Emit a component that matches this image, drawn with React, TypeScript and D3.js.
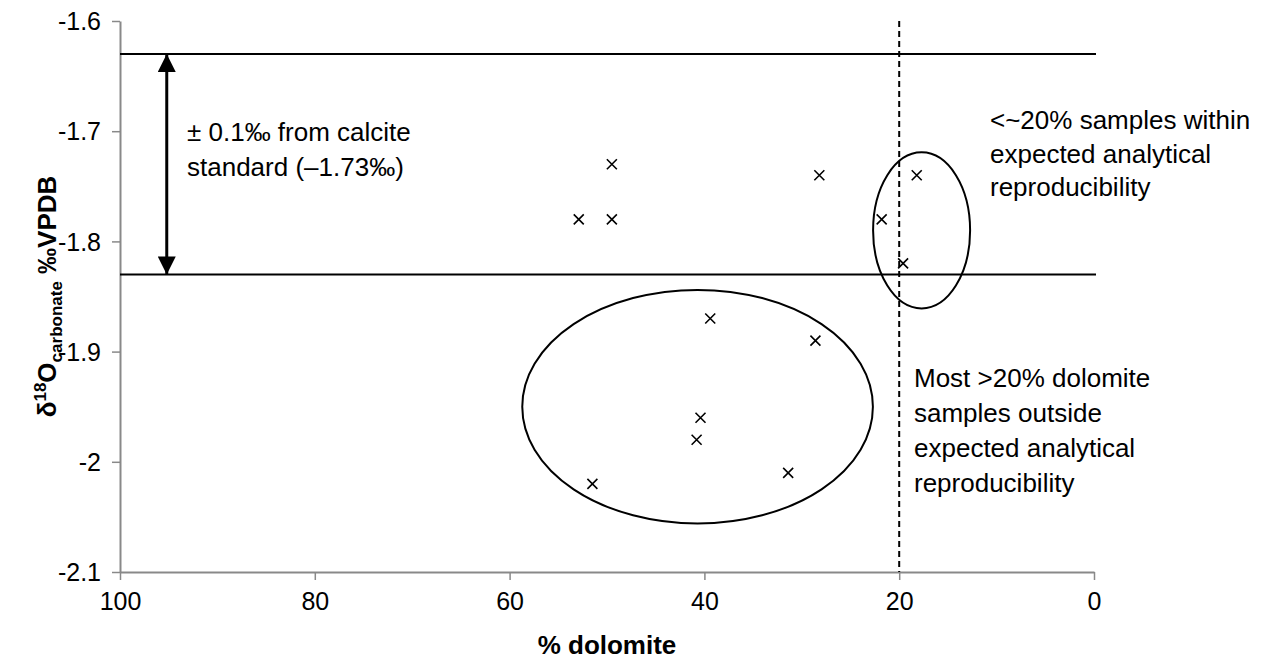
import React, { useEffect, useRef } from "react";
import * as d3 from "d3";

// % dolomite and d18O of each sample
const dolomite = [49.5, 52.9, 49.5, 28.2, 18.2, 21.8, 19.6, 39.4, 28.6, 40.4, 40.8, 31.4, 51.5];
const d18O = [-1.73, -1.78, -1.78, -1.74, -1.74, -1.78, -1.82, -1.87, -1.89, -1.96, -1.98, -2.01, -2.02];

const xTicks = [100, 80, 60, 40, 20, 0];
const yTicks = [-1.6, -1.7, -1.8, -1.9, -2, -2.1];

// reproducibility band around the calcite standard (-1.73)
const bandLines = [-1.63, -1.83];
const cutoff = 20;

// ellipses drawn round the groups: [cx, cy, rx, ry] in data units
const groups = [
  [17.7, -1.79, 4.98, 0.0708],
  [40.7, -1.95, 18.0, 0.106],
];

const noteLeft = ["± 0.1‰ from calcite", "standard (–1.73‰)"];
const noteTop = ["<~20% samples within", "expected analytical", "reproducibility"];
const noteBottom = ["Most >20% dolomite", "samples outside", "expected analytical", "reproducibility"];

export default function App() {
  const svgRef = useRef(null);

  useEffect(() => {
    const svg = d3.select(svgRef.current);
    svg.selectAll("*").remove();

    const x = d3.scaleLinear().domain([100, 0]).range([120, 1094]);
    const y = d3.scaleLinear().domain([-1.6, -2.1]).range([21, 572]);
    const font = "Liberation Sans, Arial, sans-serif";

    // axes
    const xAxis = d3.axisBottom(x).tickValues(xTicks).tickSize(8).tickSizeOuter(0).tickFormat(d3.format("d"));
    const yAxis = d3.axisLeft(y).tickValues(yTicks).tickSize(8).tickSizeOuter(0).tickFormat((d) => String(d));

    const gx = svg.append("g").attr("transform", "translate(0,572)").call(xAxis);
    const gy = svg.append("g").attr("transform", "translate(120,0)").call(yAxis);
    [gx, gy].forEach((g) => {
      g.select(".domain").attr("stroke", "#898989").attr("stroke-width", 2);
      g.selectAll(".tick line").attr("stroke", "#898989").attr("stroke-width", 1.5);
      g.selectAll(".tick text").attr("font-family", font).attr("font-size", 25).attr("fill", "#000");
    });
    gx.selectAll(".tick text").attr("dy", 0).attr("y", 38);
    gy.selectAll(".tick text").attr("x", -19).attr("dy", "0.35em");

    // band lines
    svg.selectAll(".band")
      .data(bandLines)
      .join("line")
      .attr("x1", x(100))
      .attr("x2", x(0) + 2)
      .attr("y1", (d) => y(d))
      .attr("y2", (d) => y(d))
      .attr("stroke", "#000")
      .attr("stroke-width", 2);

    // 20% cutoff
    svg.append("line")
      .attr("x1", x(cutoff)).attr("x2", x(cutoff))
      .attr("y1", y(-1.6)).attr("y2", y(-2.1))
      .attr("stroke", "#000")
      .attr("stroke-width", 2)
      .attr("stroke-dasharray", "6,4");

    // double arrow
    const defs = svg.append("defs");
    defs.append("marker")
      .attr("id", "head")
      .attr("viewBox", "0 0 10 10")
      .attr("refX", 10).attr("refY", 5)
      .attr("markerWidth", 6).attr("markerHeight", 6)
      .attr("markerUnits", "strokeWidth")
      .attr("orient", "auto-start-reverse")
      .append("path")
      .attr("d", "M0,0L10,5L0,10Z")
      .attr("fill", "#000");
    svg.append("line")
      .attr("x1", x(95.2)).attr("x2", x(95.2))
      .attr("y1", y(bandLines[0])).attr("y2", y(bandLines[1]))
      .attr("stroke", "#000")
      .attr("stroke-width", 3)
      .attr("marker-start", "url(#head)")
      .attr("marker-end", "url(#head)");

    // ellipses
    svg.selectAll(".grp")
      .data(groups)
      .join("ellipse")
      .attr("cx", (d) => x(d[0]))
      .attr("cy", (d) => y(d[1]))
      .attr("rx", (d) => x(100 - d[2]) - x(100))
      .attr("ry", (d) => y(-1.6 - d[3]) - y(-1.6))
      .attr("fill", "none")
      .attr("stroke", "#000")
      .attr("stroke-width", 2);

    // samples as x markers
    const pts = dolomite.map((v, i) => [x(v), y(d18O[i])]);
    svg.selectAll(".pt")
      .data(pts)
      .join("path")
      .attr("d", (d) => `M${d[0] - 5},${d[1] - 5}L${d[0] + 5},${d[1] + 5}M${d[0] - 5},${d[1] + 5}L${d[0] + 5},${d[1] - 5}`)
      .attr("stroke", "#000")
      .attr("stroke-width", 1.6);

    // notes
    const note = (lines, x0, y0, step) => {
      svg.append("g").selectAll("text")
        .data(lines)
        .join("text")
        .attr("x", x0)
        .attr("y", (d, i) => y0 + i * step)
        .attr("font-family", font)
        .attr("font-size", 26)
        .attr("fill", "#000")
        .text((d) => d);
    };
    note(noteLeft, 187, 141, 35);
    note(noteTop, 990, 129, 33.5);
    note(noteBottom, 914, 387, 35);

    // axis titles
    svg.append("text")
      .attr("x", (x(100) + x(0)) / 2)
      .attr("y", 654)
      .attr("text-anchor", "middle")
      .attr("font-family", font)
      .attr("font-weight", "bold")
      .attr("font-size", 26)
      .text("% dolomite");

    const t = svg.append("text")
      .attr("transform", `translate(56,${(y(-1.6) + y(-2.1)) / 2}) rotate(-90)`)
      .attr("text-anchor", "middle")
      .attr("font-family", font)
      .attr("font-weight", "bold")
      .attr("font-size", 26);
    t.append("tspan").text("δ");
    t.append("tspan").attr("font-size", 17).attr("dy", -10).text("18");
    t.append("tspan").attr("dy", 10).text("O");
    t.append("tspan").attr("font-size", 17).attr("dy", 6).text("carbonate");
    t.append("tspan").attr("dy", -6).text(" ‰VPDB");
  }, []);

  return (
    <svg ref={svgRef} width={1274} height={664} style={{ position: "absolute", left: 0, top: 0, background: "#fff" }} />
  );
}
